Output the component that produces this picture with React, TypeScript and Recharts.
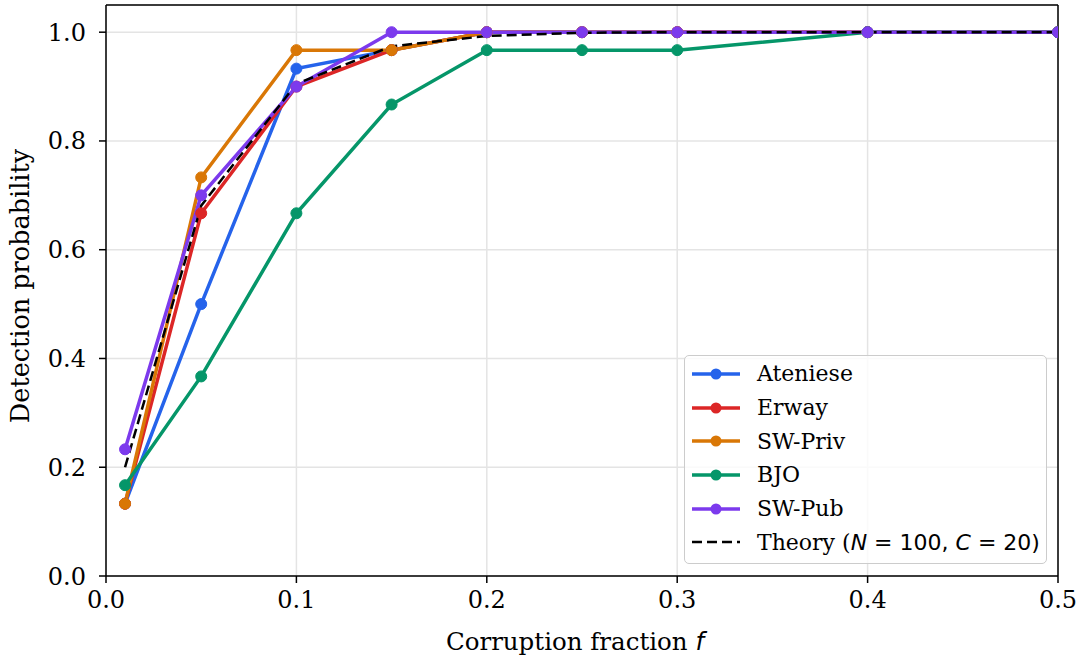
import React from 'react';
import {
  LineChart,
  Line,
  XAxis,
  YAxis,
  CartesianGrid,
  ReferenceLine,
  Label,
} from 'recharts';

// corruption fractions on the x axis
const fractions = [0.01, 0.05, 0.1, 0.15, 0.2, 0.25, 0.3, 0.4, 0.5];

// detection probability per scheme
const ateniese = [0.133, 0.5, 0.933, 0.967, 1, 1, 1, 1, 1];
const erway = [0.133, 0.667, 0.9, 0.967, 1, 1, 1, 1, 1];
const swPriv = [0.133, 0.733, 0.967, 0.967, 1, 1, 1, 1, 1];
const bjo = [0.167, 0.367, 0.667, 0.867, 0.967, 0.967, 0.967, 1, 1];
const swPub = [0.233, 0.7, 0.9, 1, 1, 1, 1, 1, 1];
const theory = [0.2, 0.681, 0.905, 0.974, 0.993, 0.999, 1, 1, 1];

const xTicks = [0, 0.1, 0.2, 0.3, 0.4, 0.5];
const yTicks = [0, 0.2, 0.4, 0.6, 0.8, 1.0];

const series = [
  { key: 'ateniese', name: 'Ateniese', color: '#2563eb', values: ateniese },
  { key: 'erway', name: 'Erway', color: '#dc2626', values: erway },
  { key: 'swPriv', name: 'SW-Priv', color: '#d97706', values: swPriv },
  { key: 'bjo', name: 'BJO', color: '#059669', values: bjo },
  { key: 'swPub', name: 'SW-Pub', color: '#7c3aed', values: swPub },
];

const data = fractions.map((f, i) => {
  const row: Record<string, number> = { f, theory: theory[i] };
  series.forEach((s) => {
    row[s.key] = s.values[i];
  });
  return row;
});

const SERIF = "'DejaVu Serif', serif";
const SANS = "'DejaVu Sans', sans-serif";

function ChartLegend() {
  return (
    <div
      style={{
        position: 'absolute',
        left: 684,
        top: 355,
        width: 363,
        height: 209,
        border: '1.5px solid #cccccc',
        borderRadius: 5,
        background: 'rgba(255,255,255,0.8)',
        paddingTop: 1,
        boxSizing: 'border-box',
      }}
    >
      {series.map((s) => (
        <div key={s.key} style={{ display: 'flex', alignItems: 'center', height: 33.7 }}>
          <svg width={72} height={20} style={{ flex: 'none' }}>
            <line x1={7} x2={55} y1={10} y2={10} stroke={s.color} strokeWidth={3.5} />
            <circle cx={31} cy={10} r={5.5} fill={s.color} />
          </svg>
          <span style={{ fontFamily: SERIF, fontSize: 22, color: '#000' }}>{s.name}</span>
        </div>
      ))}
      <div style={{ display: 'flex', alignItems: 'center', height: 33.7 }}>
        <svg width={72} height={20} style={{ flex: 'none' }}>
          <line x1={7} x2={55} y1={10} y2={10} stroke="#000" strokeWidth={2.5} strokeDasharray="10 5" />
        </svg>
        <span style={{ fontFamily: SERIF, fontSize: 22, color: '#000', whiteSpace: 'nowrap' }}>
          Theory (
          <span style={{ fontFamily: SANS, fontStyle: 'italic' }}>N</span>
          <span style={{ fontFamily: SANS }}> = 100, </span>
          <span style={{ fontFamily: SANS, fontStyle: 'italic' }}>C</span>
          <span style={{ fontFamily: SANS }}> = 20)</span>
        </span>
      </div>
    </div>
  );
}

export default function App() {
  return (
    <div style={{ position: 'absolute', left: 0, top: 0, width: 1081, height: 658, background: '#fff' }}>
      <LineChart width={1081} height={658} data={data} margin={{ top: 5, right: 23, left: 0, bottom: 0 }}>
        <CartesianGrid stroke="#e4e4e4" strokeWidth={1.5} />
        <XAxis
          type="number"
          dataKey="f"
          domain={[0, 0.5]}
          ticks={xTicks}
          allowDataOverflow
          height={82}
          tickFormatter={(v: number) => v.toFixed(1)}
          tick={{ fontSize: 24, fontFamily: SERIF, fill: '#000' }}
          tickSize={7}
          tickMargin={8}
          stroke="#000"
          axisLine={{ stroke: '#000', strokeWidth: 1.5 }}
          tickLine={{ stroke: '#000', strokeWidth: 1.5 }}
        >
          <Label
            content={() => (
              <text x={575} y={650} textAnchor="middle" fontSize={24.5} fill="#000">
                <tspan fontFamily={SERIF}>Corruption fraction </tspan>
                <tspan fontFamily={SANS} fontStyle="italic">f</tspan>
              </text>
            )}
          />
        </XAxis>
        <YAxis
          type="number"
          domain={[0, 1.05]}
          ticks={yTicks}
          allowDataOverflow
          width={106}
          tickFormatter={(v: number) => v.toFixed(1)}
          tick={{ fontSize: 24, fontFamily: SERIF, fill: '#000' }}
          tickSize={7}
          tickMargin={13}
          stroke="#000"
          axisLine={{ stroke: '#000', strokeWidth: 1.5 }}
          tickLine={{ stroke: '#000', strokeWidth: 1.5 }}
        >
          <Label
            content={() => (
              <text
                x={20}
                y={286}
                textAnchor="middle"
                dominantBaseline="central"
                transform="rotate(-90 20 286)"
                fontSize={25.5}
                fontFamily={SERIF}
                fill="#000"
              >
                Detection probability
              </text>
            )}
          />
        </YAxis>
        <ReferenceLine y={1.05} stroke="#000" strokeWidth={1.5} />
        <ReferenceLine x={0.5} stroke="#000" strokeWidth={1.5} />
        {series.map((s) => (
          <Line
            key={s.key}
            type="linear"
            dataKey={s.key}
            name={s.name}
            stroke={s.color}
            strokeWidth={3.5}
            dot={{ r: 5.5, fill: s.color, stroke: s.color, strokeWidth: 1 }}
            activeDot={false}
            isAnimationActive={false}
          />
        ))}
        <Line
          type="linear"
          dataKey="theory"
          name="Theory"
          stroke="#000"
          strokeWidth={2.5}
          strokeDasharray="10 5"
          dot={false}
          activeDot={false}
          isAnimationActive={false}
        />
      </LineChart>
      <ChartLegend />
    </div>
  );
}
